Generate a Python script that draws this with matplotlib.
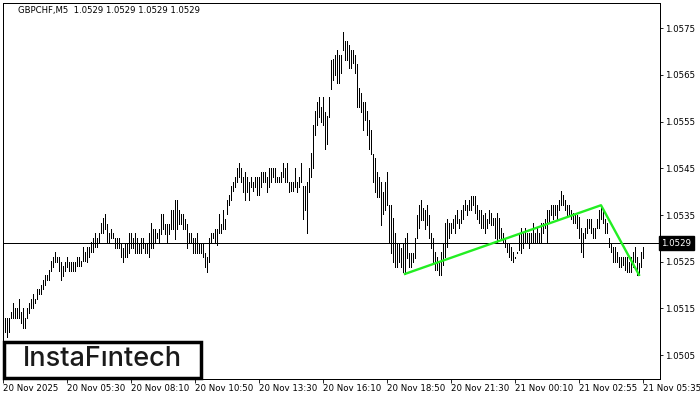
import numpy as np
import matplotlib.pyplot as plt
from matplotlib.patches import Rectangle

#%% data (M5 bars, high / low)

symbol = "GBPCHF,M5"
last_price = 1.0529

highs = [
    1.05129, 1.05129, 1.05129, 1.05129, 1.05142, 1.05162, 1.05151, 1.05151, 1.05170, 1.05142,
    1.05151, 1.05129, 1.05151, 1.05162, 1.05170, 1.05181, 1.05170, 1.05192, 1.05192, 1.05200,
    1.05211, 1.05222, 1.05222, 1.05232, 1.05251, 1.05260, 1.05271, 1.05260, 1.05260, 1.05249,
    1.05241, 1.05249, 1.05260, 1.05249, 1.05249, 1.05249, 1.05249, 1.05260, 1.05260, 1.05251,
    1.05281, 1.05271, 1.05281, 1.05281, 1.05292, 1.05301, 1.05311, 1.05301, 1.05311, 1.05333,
    1.05343, 1.05352, 1.05331, 1.05311, 1.05320, 1.05311, 1.05301, 1.05301, 1.05301, 1.05290,
    1.05279, 1.05290, 1.05290, 1.05311, 1.05311, 1.05301, 1.05311, 1.05301, 1.05290, 1.05301,
    1.05301, 1.05290, 1.05290, 1.05311, 1.05333, 1.05320, 1.05320, 1.05311, 1.05320, 1.05352,
    1.05352, 1.05331, 1.05331, 1.05331, 1.05361, 1.05361, 1.05382, 1.05382, 1.05361, 1.05352,
    1.05352, 1.05341, 1.05331, 1.05311, 1.05311, 1.05301, 1.05301, 1.05311, 1.05290, 1.05290,
    1.05290, 1.05269, 1.05260, 1.05301, 1.05311, 1.05311, 1.05320, 1.05320, 1.05352, 1.05331,
    1.05361, 1.05341, 1.05382, 1.05393, 1.05412, 1.05421, 1.05431, 1.05450, 1.05461, 1.05450,
    1.05431, 1.05442, 1.05431, 1.05421, 1.05431, 1.05421, 1.05431, 1.05431, 1.05431, 1.05442,
    1.05442, 1.05442, 1.05431, 1.05450, 1.05450, 1.05450, 1.05450, 1.05431, 1.05431, 1.05442,
    1.05461, 1.05450, 1.05461, 1.05421, 1.05421, 1.05421, 1.05450, 1.05421, 1.05431, 1.05461,
    1.05412, 1.05412, 1.05421, 1.05450, 1.05483, 1.05543, 1.05572, 1.05592, 1.05602, 1.05581,
    1.05602, 1.05570, 1.05562, 1.05602, 1.05682, 1.05684, 1.05692, 1.05703, 1.05692, 1.05692,
    1.05742, 1.05722, 1.05722, 1.05714, 1.05703, 1.05703, 1.05692, 1.05673, 1.05622, 1.05611,
    1.05592, 1.05592, 1.05572, 1.05553, 1.05532, 1.05480, 1.05472, 1.05442, 1.05431, 1.05421,
    1.05399, 1.05421, 1.05442, 1.05371, 1.05371, 1.05343, 1.05311, 1.05290, 1.05290, 1.05279,
    1.05290, 1.05301, 1.05311, 1.05269, 1.05269, 1.05269, 1.05301, 1.05350, 1.05371, 1.05382,
    1.05365, 1.05361, 1.05371, 1.05350, 1.05311, 1.05301, 1.05271, 1.05260, 1.05249, 1.05271,
    1.05290, 1.05333, 1.05341, 1.05333, 1.05333, 1.05341, 1.05350, 1.05361, 1.05341, 1.05361,
    1.05371, 1.05382, 1.05371, 1.05382, 1.05391, 1.05391, 1.05391, 1.05371, 1.05361, 1.05361,
    1.05350, 1.05354, 1.05341, 1.05361, 1.05354, 1.05343, 1.05343, 1.05354, 1.05343, 1.05322,
    1.05311, 1.05301, 1.05290, 1.05290, 1.05281, 1.05271, 1.05260, 1.05271, 1.05311, 1.05322,
    1.05311, 1.05322, 1.05311, 1.05311, 1.05311, 1.05333, 1.05311, 1.05322, 1.05311, 1.05333,
    1.05333, 1.05341, 1.05361, 1.05361, 1.05371, 1.05371, 1.05371, 1.05371, 1.05382, 1.05401,
    1.05393, 1.05382, 1.05371, 1.05371, 1.05361, 1.05354, 1.05354, 1.05350, 1.05346, 1.05322,
    1.05311, 1.05322, 1.05341, 1.05341, 1.05341, 1.05322, 1.05322, 1.05341, 1.05361, 1.05371,
    1.05361, 1.05341, 1.05333, 1.05301, 1.05290, 1.05281, 1.05281, 1.05271, 1.05260, 1.05260,
    1.05260, 1.05260, 1.05260, 1.05249, 1.05260, 1.05271, 1.05281, 1.05260, 1.05247, 1.05271,
    1.05281,
]

lows = [
    1.05099, 1.05099, 1.05089, 1.05099, 1.05129, 1.05129, 1.05129, 1.05129, 1.05129, 1.05119,
    1.05108, 1.05108, 1.05129, 1.05140, 1.05151, 1.05151, 1.05162, 1.05170, 1.05181, 1.05181,
    1.05192, 1.05200, 1.05211, 1.05211, 1.05230, 1.05239, 1.05249, 1.05249, 1.05230, 1.05211,
    1.05219, 1.05230, 1.05239, 1.05230, 1.05230, 1.05230, 1.05230, 1.05241, 1.05241, 1.05241,
    1.05251, 1.05251, 1.05249, 1.05260, 1.05271, 1.05271, 1.05281, 1.05281, 1.05290, 1.05311,
    1.05311, 1.05320, 1.05290, 1.05290, 1.05301, 1.05301, 1.05279, 1.05279, 1.05279, 1.05260,
    1.05249, 1.05260, 1.05260, 1.05269, 1.05279, 1.05279, 1.05269, 1.05269, 1.05269, 1.05269,
    1.05279, 1.05269, 1.05269, 1.05260, 1.05279, 1.05279, 1.05290, 1.05301, 1.05290, 1.05309,
    1.05320, 1.05309, 1.05290, 1.05309, 1.05320, 1.05320, 1.05299, 1.05320, 1.05331, 1.05331,
    1.05320, 1.05320, 1.05279, 1.05290, 1.05290, 1.05269, 1.05269, 1.05269, 1.05269, 1.05269,
    1.05260, 1.05239, 1.05228, 1.05249, 1.05290, 1.05301, 1.05290, 1.05286, 1.05311, 1.05311,
    1.05320, 1.05320, 1.05352, 1.05371, 1.05382, 1.05401, 1.05410, 1.05421, 1.05431, 1.05421,
    1.05399, 1.05382, 1.05399, 1.05382, 1.05410, 1.05401, 1.05410, 1.05393, 1.05393, 1.05410,
    1.05421, 1.05421, 1.05399, 1.05410, 1.05421, 1.05431, 1.05421, 1.05421, 1.05421, 1.05421,
    1.05431, 1.05421, 1.05421, 1.05399, 1.05401, 1.05401, 1.05410, 1.05399, 1.05410, 1.05421,
    1.05341, 1.05361, 1.05311, 1.05399, 1.05431, 1.05450, 1.05521, 1.05543, 1.05560, 1.05549,
    1.05543, 1.05491, 1.05502, 1.05560, 1.05620, 1.05639, 1.05650, 1.05632, 1.05632, 1.05654,
    1.05703, 1.05682, 1.05682, 1.05664, 1.05664, 1.05675, 1.05654, 1.05581, 1.05581, 1.05570,
    1.05532, 1.05553, 1.05521, 1.05491, 1.05480, 1.05421, 1.05399, 1.05388, 1.05388, 1.05329,
    1.05352, 1.05361, 1.05371, 1.05290, 1.05269, 1.05249, 1.05239, 1.05239, 1.05249, 1.05239,
    1.05228, 1.05224, 1.05258, 1.05239, 1.05239, 1.05249, 1.05258, 1.05301, 1.05322, 1.05339,
    1.05339, 1.05320, 1.05329, 1.05301, 1.05279, 1.05249, 1.05232, 1.05232, 1.05222, 1.05222,
    1.05243, 1.05260, 1.05281, 1.05301, 1.05311, 1.05322, 1.05311, 1.05333, 1.05322, 1.05333,
    1.05341, 1.05361, 1.05350, 1.05361, 1.05361, 1.05371, 1.05354, 1.05341, 1.05333, 1.05322,
    1.05322, 1.05311, 1.05322, 1.05333, 1.05329, 1.05329, 1.05301, 1.05290, 1.05301, 1.05301,
    1.05290, 1.05281, 1.05271, 1.05260, 1.05254, 1.05249, 1.05258, 1.05269, 1.05275, 1.05269,
    1.05279, 1.05290, 1.05290, 1.05279, 1.05290, 1.05290, 1.05290, 1.05290, 1.05290, 1.05290,
    1.05311, 1.05322, 1.05290, 1.05333, 1.05350, 1.05341, 1.05350, 1.05341, 1.05361, 1.05371,
    1.05371, 1.05361, 1.05350, 1.05350, 1.05341, 1.05333, 1.05333, 1.05322, 1.05301, 1.05271,
    1.05260, 1.05301, 1.05311, 1.05322, 1.05311, 1.05301, 1.05301, 1.05322, 1.05322, 1.05341,
    1.05333, 1.05311, 1.05311, 1.05281, 1.05271, 1.05249, 1.05249, 1.05249, 1.05239, 1.05239,
    1.05243, 1.05232, 1.05228, 1.05228, 1.05228, 1.05239, 1.05249, 1.05222, 1.05222, 1.05239,
    1.05258,
]

time_labels = ["20 Nov 2025", "20 Nov 05:30", "20 Nov 08:10", "20 Nov 10:50",
               "20 Nov 13:30", "20 Nov 16:10", "20 Nov 18:50", "20 Nov 21:30",
               "21 Nov 00:10", "21 Nov 02:55", "21 Nov 05:35"]
label_bars = [0, 32, 64, 96, 128, 160, 192, 224, 256, 288, 320]

price_ticks = [1.0505, 1.0515, 1.0525, 1.0535, 1.0545, 1.0555, 1.0565, 1.0575]

# pattern (green zig-zag): bar index, price
pattern_bars = [201, 299, 318]
pattern_prices = [1.05224, 1.05371, 1.05222]

#%% plot

W, H = 700, 400
fig = plt.figure(figsize=(7, 4), dpi=100)
ax = fig.add_axes([2.5/W, 21/H, 657/W, 376.5/H])

idx = np.arange(len(highs))
ax.vlines(idx, lows, highs, color='black', linewidth=0.55, antialiased=False)

ax.axhline(last_price, color='black', linewidth=0.55, antialiased=False)
ax.plot(pattern_bars, pattern_prices, color='#22ee22', linewidth=1.7, zorder=5)

ax.set_xlim(-0.25, 328.25)
ax.set_ylim(1.04999, 1.05805)

ax.set_xticks(label_bars)
ax.set_xticklabels(time_labels, ha='left', fontsize=6.2)
ax.tick_params(axis='x', direction='out', length=3, width=0.6, pad=0.8)

ax.yaxis.tick_right()
ax.set_yticks(price_ticks)
ax.set_yticklabels(['%.4f' % p for p in price_ticks], fontsize=6.2)
ax.tick_params(axis='y', direction='out', length=2.5, width=0.6, pad=1.5)

for s in ax.spines.values():
    s.set_linewidth(0.6)
    s.set_color('black')
    s.set_antialiased(False)

# current price tag
ax.text(1.003, last_price, '%.4f' % last_price, transform=ax.get_yaxis_transform(),
        ha='left', va='center', fontsize=6.2, color='white', zorder=10,
        bbox=dict(boxstyle='square,pad=0.25', fc='black', ec='black'))

fig.text(18/W, 1 - 11/H, symbol + "  1.0529 1.0529 1.0529 1.0529",
         fontsize=6.1, va='center', ha='left')

# logo box
fig.patches.append(Rectangle((3.5/W, (H - 378)/H), 197/W, 36.5/H, transform=fig.transFigure,
                             fc='white', ec='black', lw=2.5, zorder=20))
fig.text(102.5/W, 1 - 358.5/H, "InstaF\u0131ntech", fontsize=19.5, color='#1a1a1a',
         family=['Inter', 'DejaVu Sans'], fontweight='medium',
         ha='center', va='center', zorder=21)

fig.savefig('out.png', dpi=100)
